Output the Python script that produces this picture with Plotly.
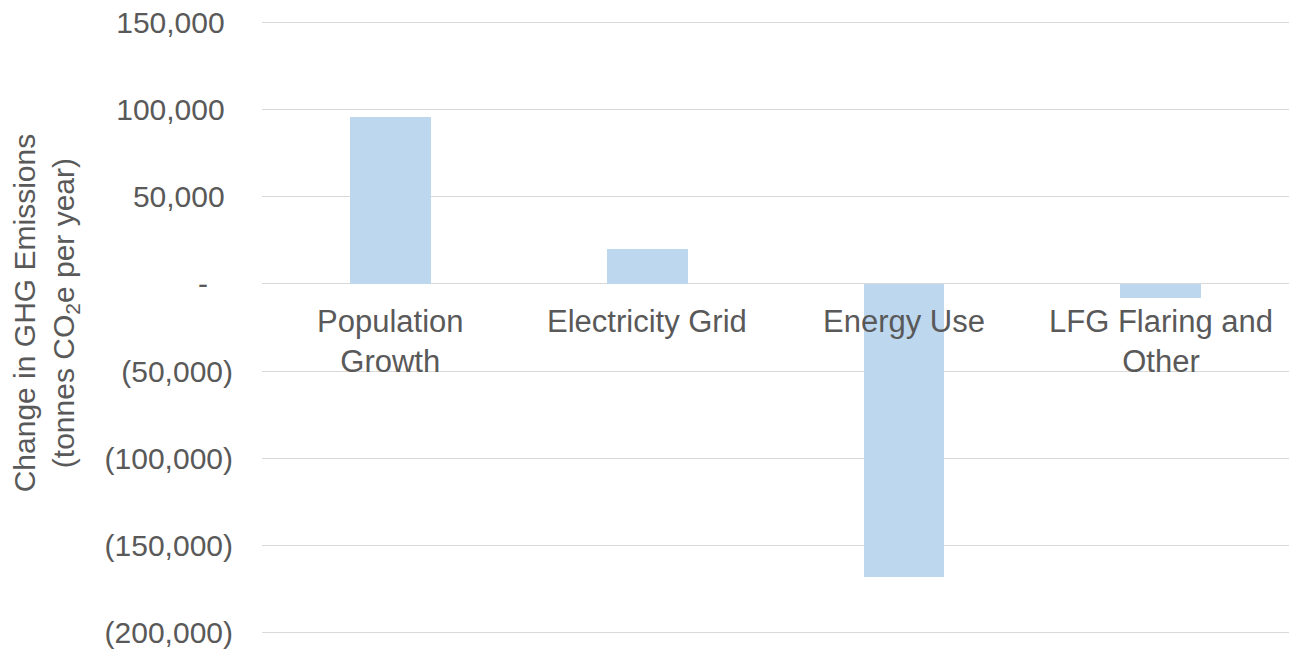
import plotly.graph_objects as go

categories = ["Population<br>Growth", "Electricity Grid", "Energy Use", "LFG Flaring and<br>Other"]
values = [96000, 20000, -168000, -8000]
tick_vals = [150000, 100000, 50000, 0, -50000, -100000, -150000, -200000]
tick_labels = ["150,000", "100,000", "50,000", "-", "(50,000)", "(100,000)", "(150,000)", "(200,000)"]

FONT = "Liberation Sans, Arial, sans-serif"
GREY = "#595959"
FS = 30

def pad(lbl):
    # accounting-style alignment: reserve width of ")" (and a digit for the dash)
    if lbl.endswith(")"):
        return lbl
    if lbl == "-":
        return lbl + "\u2007\u2008"
    return lbl + "\u2008"

fig = go.Figure()
fig.add_trace(go.Bar(
    x=categories, y=values,
    marker=dict(color="#BDD7EE", line=dict(width=0)),
    width=0.3145,
    hoverinfo="skip",
))

for c in categories:
    fig.add_annotation(x=c, y=0, xref="x", yref="y", text=c, showarrow=False,
                       yanchor="top", xanchor="center", yshift=-18,
                       font=dict(family=FONT, size=31, color=GREY))

fig.add_annotation(xref="paper", yref="paper", x=0, y=0.523, xshift=-216,
                   text="Change in GHG Emissions<br>(tonnes CO<sub>2</sub>e per year)",
                   textangle=-90, showarrow=False, xanchor="center", yanchor="middle",
                   font=dict(family=FONT, size=FS, color=GREY))

fig.update_layout(
    width=1291, height=652,
    margin=dict(l=262, r=2, t=19, b=16),
    paper_bgcolor="white", plot_bgcolor="white",
    showlegend=False,
    font=dict(family=FONT, size=FS, color=GREY),
    bargap=0,
)
fig.update_xaxes(showticklabels=False, showgrid=False, zeroline=False, showline=False)
fig.update_yaxes(range=[-202000, 152000], tickvals=tick_vals,
                 ticktext=[pad(t) for t in tick_labels],
                 showgrid=True, gridcolor="#D9D9D9", gridwidth=1.3,
                 zeroline=False, showline=False, ticks="",
                 ticklabelstandoff=28,
                 tickfont=dict(family=FONT, size=FS, color=GREY))

fig.write_html("out.html")
